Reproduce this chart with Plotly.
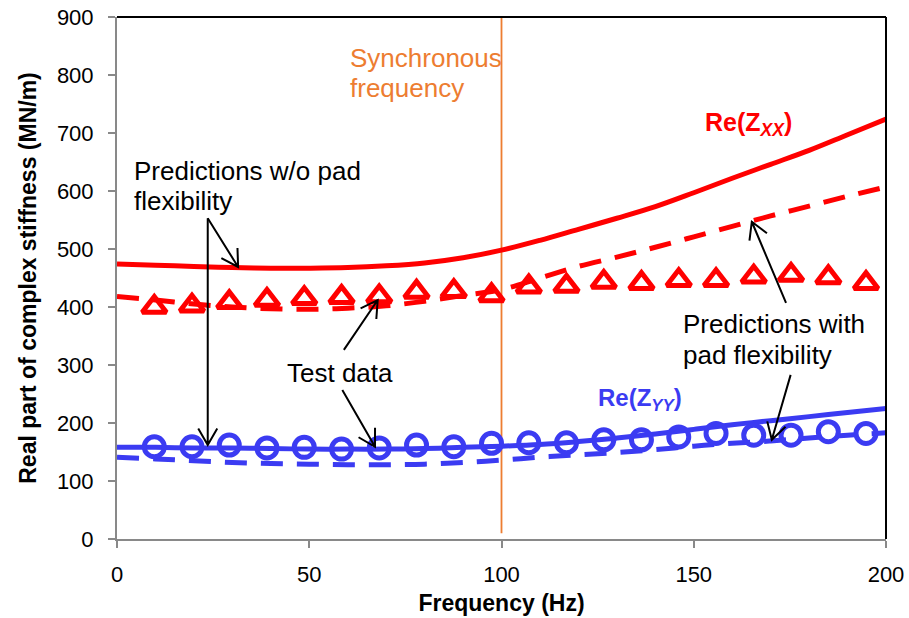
import math
import plotly.graph_objects as go

# Frequency grid of the model predictions (Hz)
freq_pred = [0, 10, 20, 30, 40, 50, 60, 70, 80, 90, 100,
             110, 120, 130, 140, 150, 160, 170, 180, 190, 200]

# Re(Zxx) predictions (MN/m)
zxx_no_pad = [474, 472, 470, 468, 467, 467, 468, 471, 476, 485, 498,
              515, 534, 553, 573, 597, 622, 646, 670, 697, 724]
zxx_pad = [418, 412, 405, 400, 397, 396, 398, 402, 410, 420, 430,
           450, 470, 486, 503, 521, 539, 557, 574, 591, 607]

# Re(Zyy) predictions (MN/m)
zyy_no_pad = [158, 158, 157, 157, 156, 155, 155, 155, 156, 158, 160,
              163, 168, 174, 181, 189, 197, 204, 211, 218, 225]
zyy_pad = [141, 138, 135, 132, 130, 129, 128, 128, 129, 132, 136,
           141, 145, 149, 154, 160, 165, 169, 174, 179, 183]

# Test data
freq_test = [9.7, 19.5, 29.2, 39.0, 48.7, 58.4, 68.2, 77.9, 87.6, 97.4,
             107.1, 116.9, 126.6, 136.4, 146.1, 155.8, 165.6, 175.3, 185.0, 194.8]
zxx_test = [400, 402, 408, 412, 415, 417, 418, 426, 427, 420,
            435, 436, 443, 441, 446, 446, 452, 455, 451, 441]
zyy_test = [159, 159, 162, 157, 158, 155, 157, 162, 159, 165,
            166, 166, 171, 171, 176, 182, 179, 179, 185, 182]

x_ticks = [0, 50, 100, 150, 200]
y_ticks = [0, 100, 200, 300, 400, 500, 600, 700, 800, 900]
sync_freq = 100

RED = "#FF0000"
BLUE = "#3B3BF2"
ORANGE = "#ED7D31"
GREY = "#898989"
FONT = "Liberation Sans, Arial, sans-serif"

W, H = 909, 618
M = dict(l=117, r=23, t=17, b=79)
X_RANGE = [0, 200]
Y_RANGE = [0, 900]
px_x = (W - M["l"] - M["r"]) / (X_RANGE[1] - X_RANGE[0])
px_y = (H - M["t"] - M["b"]) / (Y_RANGE[1] - Y_RANGE[0])

DASH = "22px,14px"
LW = 5

fig = go.Figure()
fig.add_trace(go.Scatter(x=freq_pred, y=zxx_no_pad, mode="lines",
                         line=dict(color=RED, width=LW, shape="spline")))
fig.add_trace(go.Scatter(x=freq_pred, y=zxx_pad, mode="lines",
                         line=dict(color=RED, width=LW, dash=DASH, shape="spline")))
fig.add_trace(go.Scatter(x=freq_pred, y=zyy_no_pad, mode="lines",
                         line=dict(color=BLUE, width=LW, shape="spline")))
fig.add_trace(go.Scatter(x=freq_pred, y=zyy_pad, mode="lines",
                         line=dict(color=BLUE, width=LW, dash=DASH, shape="spline")))
fig.add_trace(go.Scatter(x=freq_test, y=zxx_test, mode="markers",
                         marker=dict(symbol="triangle-up-open", size=21, color=RED,
                                     line=dict(color=RED, width=5))))
fig.add_trace(go.Scatter(x=freq_test, y=zyy_test, mode="markers",
                         marker=dict(symbol="circle-open", size=20, color=BLUE,
                                     line=dict(color=BLUE, width=5))))

# Synchronous frequency marker line
fig.add_shape(type="line", xref="x", yref="y", x0=sync_freq, x1=sync_freq, y0=10, y1=900,
              line=dict(color=ORANGE, width=1.8), layer="below")

# Black frame on top and right
fig.add_shape(type="line", xref="paper", yref="paper", x0=0, x1=1, y0=1, y1=1,
              line=dict(color="black", width=2))
fig.add_shape(type="line", xref="paper", yref="paper", x0=1, x1=1, y0=0, y1=1,
              line=dict(color="black", width=2))


def arrow(x0, y0, x1, y1, head=19, half_angle=30):
    """Straight arrow from (x0, y0) to (x1, y1) with an open V head."""
    dxp = (x1 - x0) * px_x
    dyp = (y1 - y0) * px_y
    ang = math.atan2(dyp, dxp)
    pts = []
    for s in (1, -1):
        a = ang + math.pi + s * math.radians(half_angle)
        pts.append((x1 + head * math.cos(a) / px_x, y1 + head * math.sin(a) / px_y))
    (ax1, ay1), (ax2, ay2) = pts
    path = (f"M {x0},{y0} L {x1},{y1} "
            f"M {ax1},{ay1} L {x1},{y1} L {ax2},{ay2}")
    fig.add_shape(type="path", xref="x", yref="y", path=path,
                  line=dict(color="black", width=2))


arrow(23.6, 553, 31.5, 469)
arrow(23.6, 553, 23.6, 162)
arrow(59.0, 326, 67.8, 412)
arrow(58.6, 257, 67.1, 159)
arrow(174.0, 407, 165.1, 547)
arrow(175.2, 283, 170.3, 171)


def label(x, y, text, color="black", size=26, bold=False):
    fig.add_annotation(x=x, y=y, xref="x", yref="y", text=text, showarrow=False,
                       xanchor="left", yanchor="middle",
                       font=dict(family=FONT, size=size, color=color,
                                 weight="bold" if bold else "normal"))


label(60.0, 830, "Synchronous", ORANGE)
label(60.0, 778, "frequency", ORANGE)
label(4.0, 634, "Predictions w/o pad")
label(4.0, 582, "flexibility")
label(43.6, 287, "Test data")
label(146.8, 370, "Predictions with")
label(146.8, 318, "pad flexibility")
label(152.5, 715, "Re(Z<sub><i>XX</i></sub>)", RED, 25, True)
label(124.5, 241, "Re(Z<sub><i>YY</i></sub>)", BLUE, 24, True)

axis_common = dict(
    showgrid=False, zeroline=False, showline=True, linecolor=GREY, linewidth=2,
    ticks="outside", ticklen=7, tickwidth=1.5, tickcolor=GREY, automargin=False,
    tickfont=dict(family=FONT, size=22, color="black"),
)

fig.update_layout(
    width=W, height=H, margin=M,
    paper_bgcolor="white", plot_bgcolor="white",
    showlegend=False,
    xaxis=dict(range=X_RANGE, tickvals=x_ticks, ticklabelstandoff=8,
               title=dict(text="<b>Frequency (Hz)</b>", standoff=8,
                          font=dict(family=FONT, size=23, color="black")),
               **axis_common),
    yaxis=dict(range=Y_RANGE, tickvals=y_ticks, ticklabelstandoff=10,
               title=dict(text="<b>Real part of complex stiffness (MN/m)</b>", standoff=14,
                          font=dict(family=FONT, size=23, color="black")),
               **axis_common),
)

fig.write_html("out.html")
